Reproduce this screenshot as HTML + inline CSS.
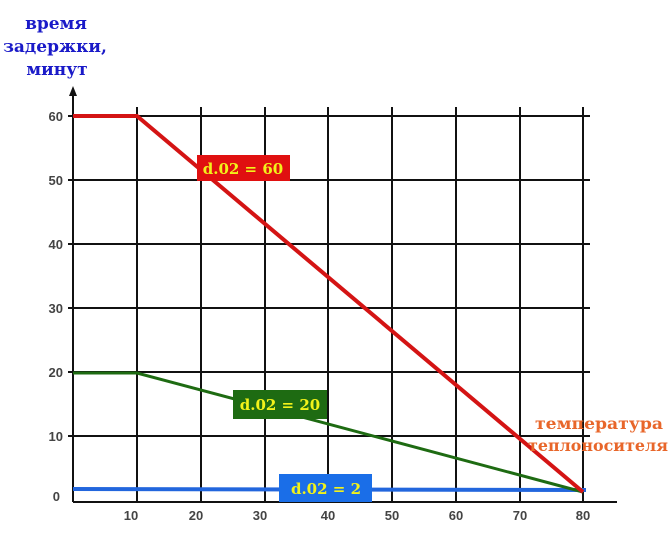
<!DOCTYPE html>
<html><head><meta charset="utf-8"><style>
body{margin:0;background:#fff;width:670px;height:548px;overflow:hidden}
</style></head><body>
<svg width="670" height="548" xmlns="http://www.w3.org/2000/svg" font-family="Liberation Sans, sans-serif">
<g font-family="DejaVu Serif, serif" font-weight="bold" font-size="17" fill="#1a1ac8" text-anchor="middle">
<text x="56" y="29">время</text>
<text x="55" y="52">задержки,</text>
<text x="57" y="75">минут</text>
</g>
<g stroke="#111" stroke-width="2">
<line x1="137" y1="107" x2="137" y2="502"/>
<line x1="201" y1="107" x2="201" y2="502"/>
<line x1="265" y1="107" x2="265" y2="502"/>
<line x1="328" y1="107" x2="328" y2="502"/>
<line x1="392" y1="107" x2="392" y2="502"/>
<line x1="456" y1="107" x2="456" y2="502"/>
<line x1="520" y1="107" x2="520" y2="502"/>
<line x1="583" y1="107" x2="583" y2="502"/>
<line x1="68" y1="116" x2="590" y2="116"/>
<line x1="68" y1="180" x2="590" y2="180"/>
<line x1="68" y1="244" x2="590" y2="244"/>
<line x1="68" y1="308" x2="590" y2="308"/>
<line x1="68" y1="372" x2="590" y2="372"/>
<line x1="68" y1="436" x2="590" y2="436"/>
<line x1="73" y1="92" x2="73" y2="502"/>
<line x1="73" y1="502" x2="617" y2="502"/>
</g>
<polygon points="73,86 69,96 77,96" fill="#111"/>
<g font-size="13" fill="#444" font-weight="bold" text-anchor="end">
<text x="63" y="121">60</text><text x="63" y="185">50</text><text x="63" y="249">40</text>
<text x="63" y="313">30</text><text x="63" y="377">20</text><text x="63" y="441">10</text><text x="60" y="501">0</text>
</g>
<g font-size="13" fill="#444" font-weight="bold" text-anchor="middle">
<text x="131" y="520">10</text><text x="196" y="520">20</text><text x="260" y="520">30</text><text x="328" y="520">40</text>
<text x="392" y="520">50</text><text x="456" y="520">60</text><text x="520" y="520">70</text><text x="583" y="520">80</text>
</g>
<polyline points="73,489 586,490" fill="none" stroke="#2266dd" stroke-width="4"/>
<polyline points="73,373 137,373 583,492" fill="none" stroke="#1e6b12" stroke-width="3"/>
<polyline points="73,116 137,116 583,492" fill="none" stroke="#d41414" stroke-width="4"/>
<g font-family="DejaVu Serif, serif" font-weight="bold" font-size="15" fill="#f2f21a" text-anchor="middle">
<rect x="197" y="155" width="93" height="26" fill="#e01010"/>
<text x="243" y="174">d.02 = 60</text>
<rect x="233" y="390" width="94" height="29" fill="#1e6b12"/>
<text x="280" y="410">d.02 = 20</text>
<rect x="279" y="474" width="93" height="28" fill="#1a6ee8"/>
<text x="326" y="494">d.02 = 2</text>
</g>
<g font-family="DejaVu Serif, serif" font-weight="bold" font-size="16" fill="#e8662a">
<text x="535" y="429" textLength="128" lengthAdjust="spacingAndGlyphs">температура</text>
<text x="528" y="451" textLength="140" lengthAdjust="spacingAndGlyphs">теплоносителя</text>
</g>
</svg>
</body></html>
